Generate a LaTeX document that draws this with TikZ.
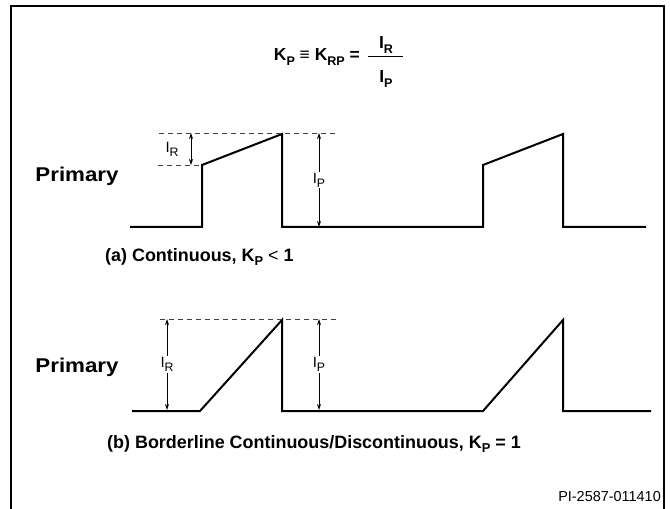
\documentclass[tikz,border=0pt]{standalone}
\usepackage{fontspec}
\setmainfont{Liberation Sans}
\usetikzlibrary{arrows.meta}

\newcommand{\lowsub}[1]{\raisebox{-0.45ex}{\scalebox{0.72}{#1}}}
\newcommand{\labsub}[1]{\raisebox{-0.5ex}{\scalebox{0.82}{#1}}}

\begin{document}
\begin{tikzpicture}[x=1bp,y=-1bp,
  wave/.style={line width=2bp,line join=miter},
  level/.style={line width=0.9bp,black!75,dash pattern=on 5bp off 4bp},
  dim/.style={{Stealth[length=6bp,width=4bp]}-{Stealth[length=6bp,width=4bp]},line width=0.9bp},
  lbl/.style={font=\fontsize{15}{15}\selectfont,fill=white,inner sep=1bp},
  side/.style={font=\bfseries\fontsize{20}{22}\selectfont,inner sep=0pt},
  title/.style={font=\bfseries\fontsize{18}{20}\selectfont,anchor=west,inner sep=0pt}]

  \useasboundingbox (0,0) rectangle (670,509);
  \draw[line width=1.5bp] (11,509) -- (11,6) -- (664,6) -- (664,509);

  % Specification of the equation
  \node[font=\bfseries\fontsize{17.5}{19}\selectfont,anchor=east,inner sep=0pt] (eq) at (360,57)
    {K\lowsub{P} {\mdseries ≡} K\lowsub{RP} =};
  \node[font=\bfseries\fontsize{17.5}{19}\selectfont,inner sep=0pt] (num) at (386,45) {I\lowsub{R}};
  \node[font=\bfseries\fontsize{17.5}{19}\selectfont,inner sep=0pt] (den) at (386,79) {I\lowsub{P}};
  \coordinate (fl) at (368,57);
  \coordinate (fr) at (403,57);
  \draw[line width=1bp] (fl) to (fr);

  % Specification of coordinates (continuous)
  \coordinate (a0) at (130,227);
  \coordinate (a1) at (202,227);
  \coordinate (a2) at (202,165);
  \coordinate (a3) at (282,134);
  \coordinate (a4) at (282,227);
  \coordinate (a5) at (483,227);
  \coordinate (a6) at (483,165);
  \coordinate (a7) at (563,134);
  \coordinate (a8) at (563,227);
  \coordinate (a9) at (646,227);
  \coordinate (ta0) at (159,133);
  \coordinate (ta1) at (338,133);
  \coordinate (la0) at (158,165);
  \coordinate (ra0) at (191,133);
  \coordinate (ra1) at (191,165);
  \coordinate (pa0) at (319,133);
  \coordinate (pa1) at (319,227);

  % Specification of coordinates (borderline)
  \coordinate (b0) at (132,411);
  \coordinate (b1) at (200,411);
  \coordinate (b2) at (282,320);
  \coordinate (b3) at (282,411);
  \coordinate (b4) at (483,411);
  \coordinate (b5) at (563,320);
  \coordinate (b6) at (563,411);
  \coordinate (b7) at (651,411);
  \coordinate (tb0) at (160,319);
  \coordinate (tb1) at (340,319);
  \coordinate (rb0) at (167,319);
  \coordinate (rb1) at (167,410);
  \coordinate (pb0) at (319,319);
  \coordinate (pb1) at (319,410);

  \node[side] (pria) at (77,176) {\scalebox{1.12}[1]{Primary}};
  \node[side] (prib) at (77,367) {\scalebox{1.12}[1]{Primary}};

  \draw[wave] (a0) -- (a1) -- (a2) -- (a3) -- (a4) -- (a5) -- (a6) -- (a7) -- (a8) -- (a9);
  \draw[wave] (b0) -- (b1) -- (b2) -- (b3) -- (b4) -- (b5) -- (b6) -- (b7);

  \begin{scope}[level]
    \draw (ta0) to (ta1);
    \draw (la0) to (a2);
    \draw (tb0) to (tb1);
  \end{scope}

  \begin{scope}[dim]
    \draw (ra0) to (ra1);
    \draw (pa0) to node[lbl] (ipa) {I\labsub{P}} (pa1);
    \draw (rb0) to node[lbl] (irb) {I\labsub{R}} (rb1);
    \draw (pb0) to node[lbl] (ipb) {I\labsub{P}} (pb1);
  \end{scope}
  \node[lbl,fill=none] (ira) at (172,149) {I\labsub{R}};

  \node[title] (capa) at (105,257) {(a) Continuous, K\lowsub{P} {\mdseries <} 1};
  \node[title] (capb) at (107,444) {(b) Borderline Continuous/Discontinuous, K\lowsub{P} = 1};

  \node[font=\fontsize{14.5}{15}\selectfont,anchor=east,inner sep=0pt] (code) at (661,497) {PI-2587-011410};

\end{tikzpicture}
\end{document}
